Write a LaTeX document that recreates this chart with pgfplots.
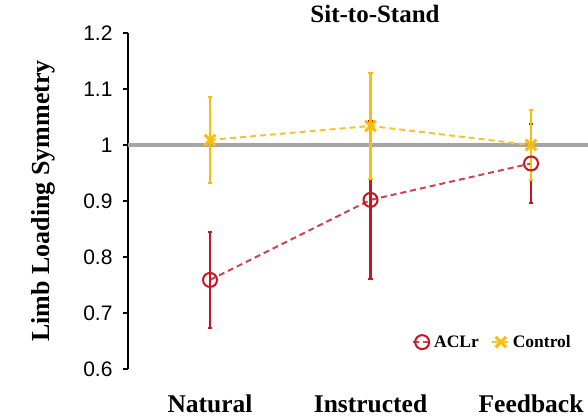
\documentclass[border=0pt]{standalone}
\usepackage{fontspec}
\setmainfont{Liberation Serif}
\newfontfamily\sansf{Liberation Sans}
\usepackage{pgfplots}
\pgfplotsset{compat=1.18}
\definecolor{aclr}{RGB}{200,20,35}
\definecolor{aclrline}{RGB}{210,65,80}
\definecolor{ctrl}{RGB}{250,190,10}
\definecolor{ctrlline}{RGB}{245,195,50}
\definecolor{refgray}{RGB}{165,165,165}
\begin{document}
\begin{tikzpicture}
\useasboundingbox (0,0) rectangle (588bp,419bp);
\begin{axis}[
  at={(128bp,50bp)}, anchor=south west,
  scale only axis, width=460bp, height=336bp,
  xmin=-0.511, xmax=2.355, ymin=0.6, ymax=1.2,
  clip=false,
  axis lines=left,
  x axis line style={draw=none},
  y axis line style={-, black, line width=2.2bp},
  xtick={0,1,2}, xticklabels={Natural,Instructed,Feedback},
  xtick style={draw=none},
  xticklabel style={font=\bfseries\fontsize{25.5bp}{30bp}\selectfont, yshift=-17bp},
  ytick={0.6,0.7,0.8,0.9,1,1.1,1.2},
  tick align=outside,
  major tick length=5bp,
  ytick style={black, line width=2bp},
  yticklabel style={font=\sansf\fontsize{21bp}{24bp}\selectfont, xshift=-7bp},
  /pgf/number format/assume math mode=true,
  title={Sit-to-Stand},
  title style={font=\bfseries\fontsize{25bp}{30bp}\selectfont, at={(0.537,1)}, anchor=center, yshift=13bp},
  ylabel={Limb Loading Symmetry},
  ylabel style={font=\bfseries\fontsize{26bp}{30bp}\selectfont, at={(axis description cs:-0.185,0.5)}, anchor=center},
  legend columns=2,
  legend cell align=left,
  legend style={draw=none, fill=none, at={(0.974,0.08)}, anchor=east,
    font=\bfseries\fontsize{17.5bp}{20bp}\selectfont,
    /tikz/every even column/.append style={column sep=10bp}},
  legend image code/.code={\draw[mark repeat=2,mark phase=2,#1] plot coordinates {(0bp,0bp) (9bp,0bp) (18bp,0bp)};},
]
\addplot[refgray, line width=3.2bp, forget plot] coordinates {(-0.511,1) (2.355,1)};
\addplot[aclrline, dash pattern=on 6bp off 4bp, line width=2bp,
  mark=o, mark size=7bp, mark options={solid, aclr, line width=2bp},
  error bars/.cd, y dir=both, y explicit,
  error bar style={solid, aclr, line width=2.2bp},
  error mark options={rotate=90, aclr, mark size=2.2bp, line width=2bp}]
  coordinates {(0,0.759) +- (0,0.086) (1,0.902) +- (0,0.141) (2,0.967) +- (0,0.071)};
\addlegendentry{ACLr}
\addplot[ctrlline, dash pattern=on 6bp off 4bp, line width=2bp,
  mark=x, mark size=7.5bp, mark options={solid, ctrl, line width=3bp},
  error bars/.cd, y dir=both, y explicit,
  error bar style={solid, ctrl, line width=2.2bp},
  error mark options={rotate=90, ctrl, mark size=2.2bp, line width=2bp}]
  coordinates {(0,1.009) +- (0,0.076) (1,1.034) +- (0,0.095) (2,1.0) +- (0,0.062)};
\addlegendentry{Control}
\end{axis}
\end{tikzpicture}
\end{document}
